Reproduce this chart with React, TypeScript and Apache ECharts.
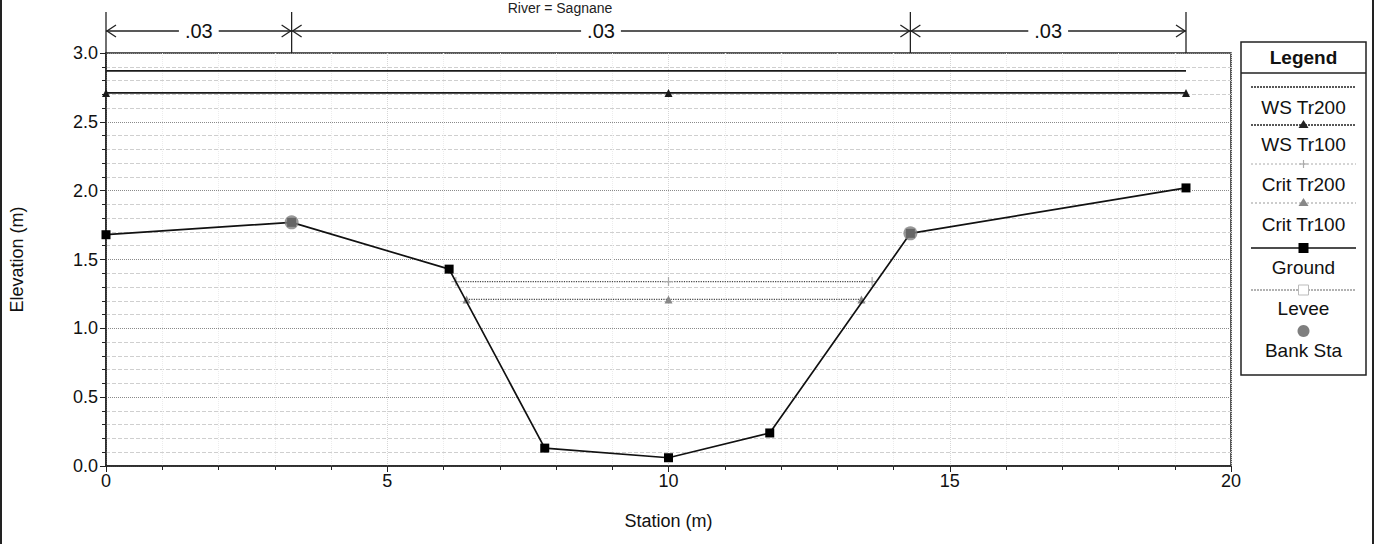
import React, { useEffect, useRef } from "react";
import * as echarts from "echarts";

// ---- data ----
const groundStations = [0, 3.3, 6.1, 7.8, 10, 11.8, 14.3, 19.2];
const groundElev = [1.68, 1.77, 1.43, 0.13, 0.06, 0.24, 1.69, 2.02];
const bankStations = [3.3, 14.3];
const bankElev = [1.77, 1.69];
const leveeStations = [19.2];
const leveeElev = [2.0];
const wsTr200Stations = [0, 19.2];
const wsTr200Elev = [2.87, 2.87];
const wsTr100Stations = [0, 10, 19.2];
const wsTr100Elev = [2.71, 2.71, 2.71];
const critTr200Stations = [6.22, 10, 13.62];
const critTr200Elev = [1.34, 1.34, 1.34];
const critTr100Stations = [6.41, 10, 13.43];
const critTr100Elev = [1.21, 1.21, 1.21];
const nBreaks = [0, 3.3, 14.3, 19.2];
const nValues = [".03", ".03", ".03"];
const legendNames = ["WS Tr200", "WS Tr100", "Crit Tr200", "Crit Tr100", "Ground", "Levee", "Bank Sta"];

const FONT = "'Liberation Sans', Arial, sans-serif";
const zip = (xs: number[], ys: number[]) => xs.map((x, i) => [x, ys[i]]);
const PLUS = "path://M0,5L10,5M5,0L5,10";

export default function App() {
  const ref = useRef<HTMLDivElement>(null);
  useEffect(() => {
    if (!ref.current) return;
    const chart = echarts.init(ref.current, null, { renderer: "svg" });
    const option: any = {
      animation: false,
      backgroundColor: "#ffffff",
      grid: { left: 105, right: 144, top: 53, bottom: 78, show: true, borderColor: "#222", borderWidth: 1.5 },
      xAxis: {
        type: "value", min: 0, max: 20, interval: 5,
        name: "Station (m)", nameLocation: "middle", nameGap: 46,
        nameTextStyle: { fontFamily: FONT, fontSize: 18, color: "#111" },
        axisLine: { onZero: false, lineStyle: { color: "#222", width: 1.5 } },
        axisTick: { show: true, length: 6, lineStyle: { color: "#222" } },
        minorTick: { show: true, splitNumber: 5, length: 4, lineStyle: { color: "#222" } },
        axisLabel: { fontFamily: FONT, fontSize: 18, color: "#111", margin: 6 },
        splitLine: { show: true, lineStyle: { color: "#d6d6d6", type: "dotted" } },
        minorSplitLine: { show: true, lineStyle: { color: "#ececec", type: "dotted" } },
      },
      yAxis: {
        type: "value", min: 0, max: 3, interval: 0.5,
        name: "Elevation (m)", nameLocation: "middle", nameGap: 80,
        nameTextStyle: { fontFamily: FONT, fontSize: 18, color: "#111" },
        axisLine: { show: true, lineStyle: { color: "#222", width: 1.5 } },
        axisTick: { show: true, length: 6, lineStyle: { color: "#222" } },
        minorTick: { show: true, splitNumber: 5, length: 4, lineStyle: { color: "#222" } },
        axisLabel: { fontFamily: FONT, fontSize: 18, color: "#111", margin: 8, formatter: (v: number) => v.toFixed(1) },
        splitLine: { show: true, lineStyle: { color: "#8a8a8a", type: "dotted" } },
        minorSplitLine: { show: true, lineStyle: { color: "#cfcfcf", type: "dashed" } },
      },
      series: [
        { name: legendNames[0], type: "line", data: zip(wsTr200Stations, wsTr200Elev), symbol: "none",
          lineStyle: { color: "#1a1a1a", width: 1.8 }, z: 3 },
        { name: legendNames[1], type: "line", data: zip(wsTr100Stations, wsTr100Elev), symbol: "triangle", symbolSize: 8,
          itemStyle: { color: "#1a1a1a" }, lineStyle: { color: "#1a1a1a", width: 1.8 }, z: 3 },
        { name: legendNames[2], type: "line", data: zip(critTr200Stations, critTr200Elev), symbol: PLUS, symbolSize: 9,
          itemStyle: { color: "#aaa", borderColor: "#aaa", borderWidth: 1.2 }, lineStyle: { color: "#444", width: 1.2, type: "dotted" }, z: 3 },
        { name: legendNames[3], type: "line", data: zip(critTr100Stations, critTr100Elev), symbol: "triangle", symbolSize: 8,
          itemStyle: { color: "#888" }, lineStyle: { color: "#444", width: 1.2, type: "dotted" }, z: 3 },
        { name: legendNames[4], type: "line", data: zip(groundStations, groundElev), symbol: "rect", symbolSize: 9,
          itemStyle: { color: "#000" }, lineStyle: { color: "#111", width: 1.7 }, z: 4 },
        { name: legendNames[5], type: "line", data: zip(leveeStations, leveeElev), symbol: "emptyRect", symbolSize: 9,
          itemStyle: { color: "#fff", borderColor: "#bbb", borderWidth: 1 }, z: 3 },
        { name: legendNames[6], type: "scatter", data: zip(bankStations, bankElev), symbol: "circle", symbolSize: 14,
          itemStyle: { color: "#7f7f7f" }, z: 5 },
      ],
    };
    chart.setOption(option);

    const px = (x: number, y: number) => chart.convertToPixel({ xAxisIndex: 0, yAxisIndex: 0 }, [x, y]) as number[];
    const g: any[] = [];
    const topY = px(0, 3)[1];
    const arrowY = 31;
    // outer frame lines
    g.push({ type: "line", shape: { x1: 1, y1: 0, x2: 1, y2: 544 }, style: { stroke: "#222", lineWidth: 2 } });
    g.push({ type: "line", shape: { x1: 1373, y1: 0, x2: 1373, y2: 544 }, style: { stroke: "#222", lineWidth: 2 } });
    // title (at the top edge)
    g.push({ type: "text", style: { x: 560, y: 8, text: "River = Sagnane", textAlign: "center", textVerticalAlign: "middle",
      font: `14px ${FONT}`, fill: "#222" } });
    // manning's n annotations
    nBreaks.forEach((s) => {
      const x = px(s, 3)[0];
      g.push({ type: "line", shape: { x1: x, y1: 12, x2: x, y2: topY }, style: { stroke: "#222", lineWidth: 1.3 } });
    });
    nValues.forEach((v, i) => {
      const xa = px(nBreaks[i], 3)[0];
      const xb = px(nBreaks[i + 1], 3)[0];
      g.push({ type: "line", shape: { x1: xa, y1: arrowY, x2: xb, y2: arrowY }, style: { stroke: "#222", lineWidth: 1.3 } });
      g.push({ type: "polyline", shape: { points: [[xa + 10, arrowY - 6], [xa + 1, arrowY], [xa + 10, arrowY + 6]] }, style: { stroke: "#222", fill: null, lineWidth: 1.3 } });
      g.push({ type: "polyline", shape: { points: [[xb - 10, arrowY - 6], [xb - 1, arrowY], [xb - 10, arrowY + 6]] }, style: { stroke: "#222", fill: null, lineWidth: 1.3 } });
      g.push({ type: "text", style: { x: (xa + xb) / 2, y: arrowY, text: v, textAlign: "center", textVerticalAlign: "middle",
        font: `20px ${FONT}`, fill: "#111", backgroundColor: "#fff", padding: [0, 6] } });
    });
    // legend box
    const LX = 1241, LW = 125, LY = 42, LH = 333, cx = LX + LW / 2;
    g.push({ type: "rect", shape: { x: LX, y: LY, width: LW, height: LH }, style: { fill: "#fff", stroke: "#222", lineWidth: 1.5 } });
    g.push({ type: "line", shape: { x1: LX, y1: 73, x2: LX + LW, y2: 73 }, style: { stroke: "#222", lineWidth: 1.3 } });
    g.push({ type: "text", style: { x: cx, y: 57, text: "Legend", textAlign: "center", textVerticalAlign: "middle", font: `bold 19px ${FONT}`, fill: "#111" } });
    const sampleY = [87, 125, 164, 203, 248, 290, 331];
    const textY = [107, 144, 184, 224, 267, 308, 350];
    const x1 = LX + 10, x2 = LX + LW - 10;
    const lineStyles = [
      { stroke: "#222", lineWidth: 1.4, lineDash: [2, 1] },
      { stroke: "#222", lineWidth: 1.4, lineDash: [2, 1] },
      { stroke: "#aaa", lineWidth: 1, lineDash: [2, 2] },
      { stroke: "#999", lineWidth: 1, lineDash: [2, 2] },
      { stroke: "#111", lineWidth: 1.6 },
      { stroke: "#666", lineWidth: 1.2, lineDash: [2, 1] },
      null,
    ];
    legendNames.forEach((n, i) => {
      const y = sampleY[i];
      if (lineStyles[i]) g.push({ type: "line", shape: { x1, y1: y, x2, y2: y }, style: lineStyles[i] });
      if (i === 1 || i === 3) {
        const c = i === 1 ? "#222" : "#888";
        g.push({ type: "polygon", shape: { points: [[cx, y - 5], [cx - 5, y + 3], [cx + 5, y + 3]] }, style: { fill: c } });
      } else if (i === 2) {
        g.push({ type: "line", shape: { x1: cx - 4, y1: y, x2: cx + 4, y2: y }, style: { stroke: "#aaa", lineWidth: 1.2 } });
        g.push({ type: "line", shape: { x1: cx, y1: y - 4, x2: cx, y2: y + 4 }, style: { stroke: "#aaa", lineWidth: 1.2 } });
      } else if (i === 4) {
        g.push({ type: "rect", shape: { x: cx - 5, y: y - 5, width: 10, height: 10 }, style: { fill: "#000" } });
      } else if (i === 5) {
        g.push({ type: "rect", shape: { x: cx - 5, y: y - 5, width: 10, height: 10 }, style: { fill: "#fff", stroke: "#bbb", lineWidth: 1 } });
      } else if (i === 6) {
        g.push({ type: "circle", shape: { cx, cy: y, r: 6 }, style: { fill: "#7f7f7f" } });
      }
      g.push({ type: "text", style: { x: cx, y: textY[i], text: n, textAlign: "center", textVerticalAlign: "middle", font: `19px ${FONT}`, fill: "#111" } });
    });
    chart.setOption({ graphic: g });
    return () => chart.dispose();
  }, []);
  return <div ref={ref} style={{ position: "absolute", left: 0, top: 0, width: 1375, height: 544 }} />;
}
